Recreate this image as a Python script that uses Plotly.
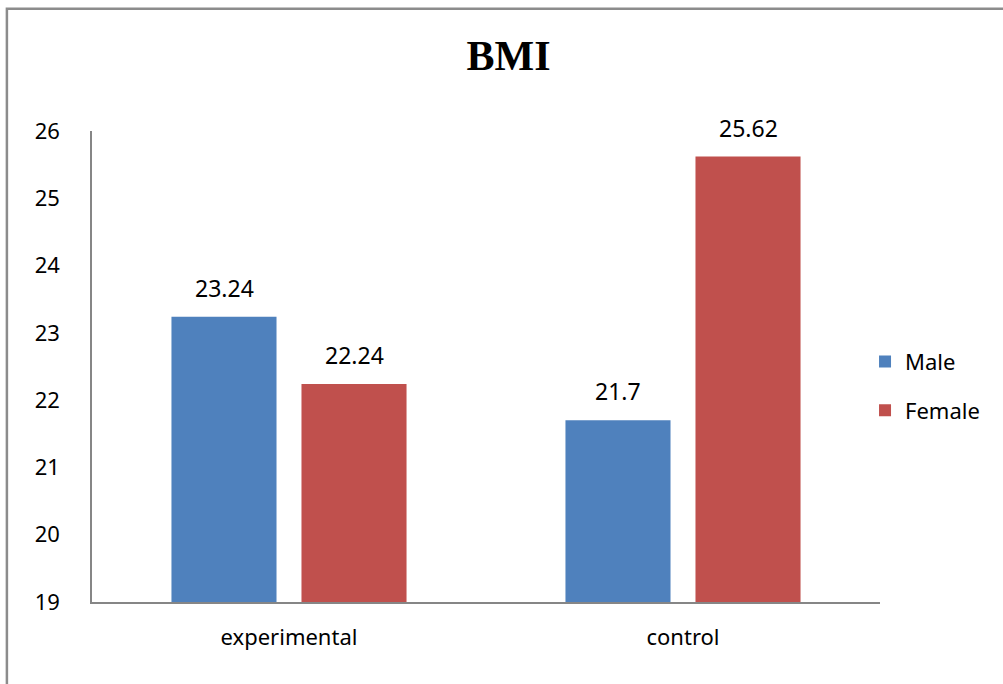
import plotly.graph_objects as go

groups = ["experimental", "control"]
male = [23.24, 21.7]
female = [22.24, 25.62]
y_ticks = [19, 20, 21, 22, 23, 24, 25, 26]

BLUE = "#4F81BD"
RED = "#C0504D"
FONT = "Noto Sans"
FS = 23

fig = go.Figure()
fig.add_trace(go.Bar(name="Male", x=groups, y=male, legendgroup="m",
                     marker=dict(color=BLUE, line_width=0)))
fig.add_trace(go.Bar(name="Female", x=groups, y=female, legendgroup="f",
                     marker=dict(color=RED, line_width=0)))

# value labels above each bar
for vals, shift in ((male, -65), (female, 65)):
    for g, v in zip(groups, vals):
        fig.add_annotation(x=g, y=v, text=f"{v:g}", showarrow=False, xshift=shift,
                           yanchor="bottom", yshift=11,
                           font=dict(family=FONT, size=FS, color="#000000"))

# outer frame
fig.add_shape(type="path", xref="paper", yref="paper",
              path="M -0.108,-0.2 L -0.108,1.2595 L 1.2,1.2595",
              line=dict(color="#8C8C8C", width=2.5))

fig.update_layout(
    width=1003, height=684,
    margin=dict(l=92, r=123, t=131, b=82),
    paper_bgcolor="white", plot_bgcolor="white",
    barmode="group", bargap=0.34, bargroupgap=0.192,
    title=dict(text="<b>BMI</b>", x=0.507, xanchor="center", y=0.919, yanchor="middle",
               font=dict(family="Liberation Serif", size=42, color="#000000")),
    legend=dict(x=0.981, xanchor="left", y=0.458, yanchor="middle", bgcolor="rgba(0,0,0,0)",
                font=dict(family=FONT, size=FS - 1, color="#000000"), tracegroupgap=17,
                itemwidth=30),
    xaxis=dict(showline=True, linecolor="#868686", linewidth=2, ticks="", showgrid=False,
               tickfont=dict(family=FONT, size=FS - 1, color="#000000"), ticklabelstandoff=15),
    yaxis=dict(range=[19, 26], tickvals=y_ticks, showline=True, linecolor="#868686",
               linewidth=1.5, ticks="", showgrid=False, zeroline=False,
               tickfont=dict(family=FONT, size=FS - 1, color="#000000"), ticklabelstandoff=26),
)

fig.write_html("out.html")
